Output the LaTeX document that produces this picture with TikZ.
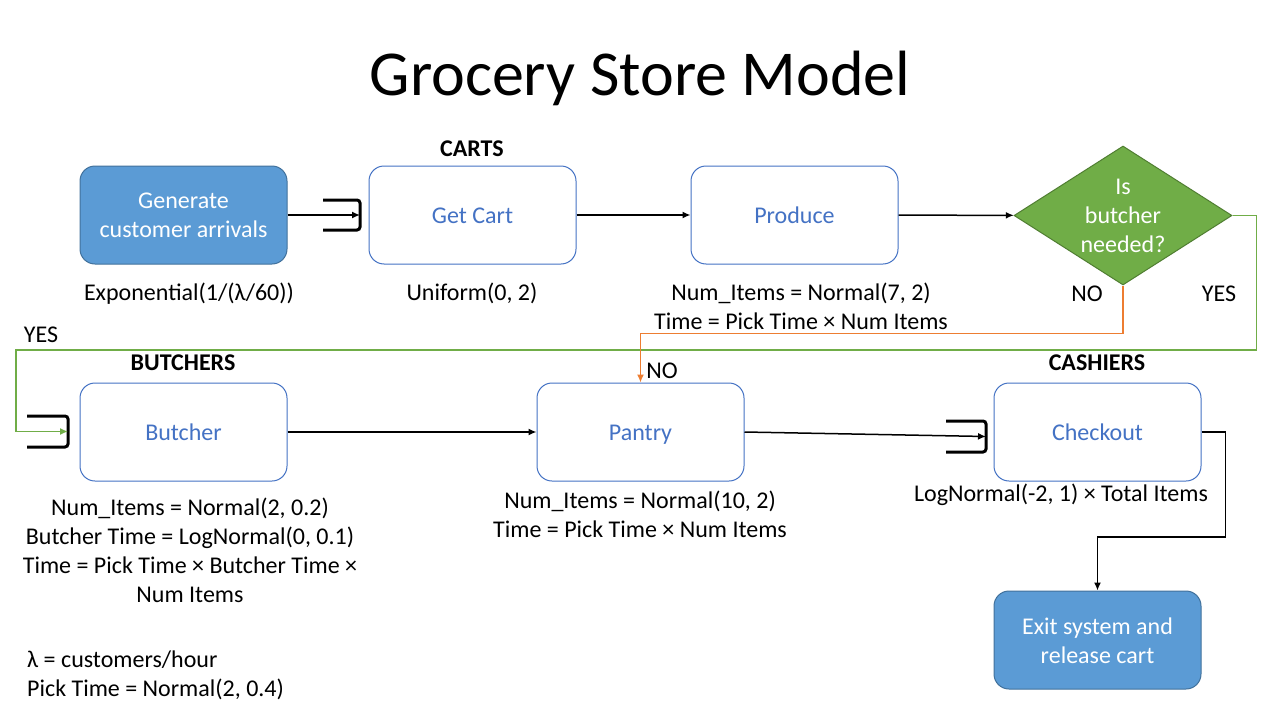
\documentclass[tikz,border=0pt]{standalone}
\usepackage{fontspec}
\setmainfont{Carlito}
\usetikzlibrary{shapes.geometric,arrows.meta}
\definecolor{boxblue}{HTML}{4472C4}
\definecolor{fillblue}{HTML}{5B9BD5}
\definecolor{edgeblue}{HTML}{41719C}
\definecolor{leafgreen}{HTML}{70AD47}
\definecolor{darkgreen}{HTML}{507E32}
\definecolor{noorange}{HTML}{ED7D31}
\newcommand{\linestrut}{\rule[-5.5pt]{0pt}{27.5pt}}

\begin{document}
\begin{tikzpicture}[x=1pt,y=-1pt,
    every node/.style={font=\fontsize{24}{29}\selectfont, align=center, inner sep=0pt,
      execute at begin node=\linestrut, execute at end node=\linestrut},
    multi/.style={yshift=-3pt},
    proc/.style={draw=boxblue, line width=1pt, rounded corners=15pt, minimum width=207pt, minimum height=98pt, text=boxblue, fill=white},
    term/.style={proc, fill=fillblue, draw=edgeblue},
    decision/.style={diamond, aspect=1.57, fill=leafgreen, draw=darkgreen, line width=1pt, minimum width=218pt, minimum height=139pt},
    boxtext/.style={multi, text=white},
    head/.style={font=\fontsize{24}{29}\selectfont\bfseries},
    flow/.style={line width=1.5pt, -{Latex[length=8pt,width=7pt]}},
    qline/.style={line width=3pt, rounded corners=3pt}]
    \useasboundingbox (0,0) rectangle (1280,720);
    \node (title) at (640,78) {\fontsize{64}{77}\selectfont Grocery Store Model};
    \node[term] (gen) at (183.5,215) {};
    \node[boxtext] (gentext) at (gen) {Generate\\customer arrivals};
    \node[proc] (cart) at (472.5,215) {Get Cart};
    \node[proc] (produce) at (794.5,215) {Produce};
    \node[decision] (decide) at (1123,215.5) {};
    \node[boxtext] (decidetext) at (decide) {Is\\butcher\\needed?};
    \node[proc] (butcher) at (183.5,432) {Butcher};
    \node[proc] (pantry) at (640.5,432) {Pantry};
    \node[proc] (checkout) at (1097.5,432) {Checkout};
    \node[term] (exit) at (1097.5,640) {};
    \node[boxtext] (exittext) at (exit) {Exit system and\\release cart};
    \node[head] (carts) at (472,148) {CARTS};
    \node[head] (butchers) at (183,362) {BUTCHERS};
    \node[head] (cashiers) at (1097,362) {CASHIERS};
    \node (gentxt) at (189,292) {Exponential(1/(λ/60))};
    \node (carttxt) at (472,292) {Uniform(0, 2)};
    \node[multi] (prodtxt) at (801,305.5) {Num\_Items = Normal(7, 2)\\Time = Pick Time × Num Items};
    \node[multi] (butchtxt) at (190,549.5) {Num\_Items = Normal(2, 0.2)\\Butcher Time = LogNormal(0, 0.1)\\Time = Pick Time × Butcher Time ×\\Num Items};
    \node[multi] (pantrytxt) at (640,513.5) {Num\_Items = Normal(10, 2)\\Time = Pick Time × Num Items};
    \node (checktxt) at (1061,493) {LogNormal(-2, 1) × Total Items};
    \node[multi, anchor=west, align=left] (legend) at (27,673.5) {λ = customers/hour\\Pick Time = Normal(2, 0.4)};
    \node (nodecide) at (1087,293) {NO};
    \node (yesdecide) at (1219,293) {YES};
    \node (yesbutch) at (41,334) {YES};
    \node (nopantry) at (662,370) {NO};
    \coordinate (cartq) at (360,215);
    \coordinate (butchq) at (68,431.5);
    \coordinate (checkq) at (986,436.5);
    \draw[qline, shift={(cartq)}] (-37,-15) -- (0,-15) -- (0,15) -- (-37,15);
    \draw[qline, shift={(butchq)}] (-41,-15.5) -- (0,-15.5) -- (0,15.5) -- (-41,15.5);
    \draw[qline, shift={(checkq)}] (-40,-15.5) -- (0,-15.5) -- (0,15.5) -- (-40,15.5);
    \draw[flow] (gen.east) -- (cartq);
    \draw[flow] (cart) -- (produce);
    \draw[flow] (produce) -- (decide);
    \draw[flow, draw=leafgreen] (decide.east) -- ++(24,0) |- (16,350) |- (butchq);
    \draw[flow, draw=noorange] (decide.south) -- ++(0,48) -| (pantry.north);
    \draw[flow] (butcher) -- (pantry);
    \draw[flow] (pantry.east) -- (checkq);
    \draw[flow] (checkout.east) -- ++(24,0) -- ++(0,105) -| (exit.north);
\end{tikzpicture}
\end{document}
